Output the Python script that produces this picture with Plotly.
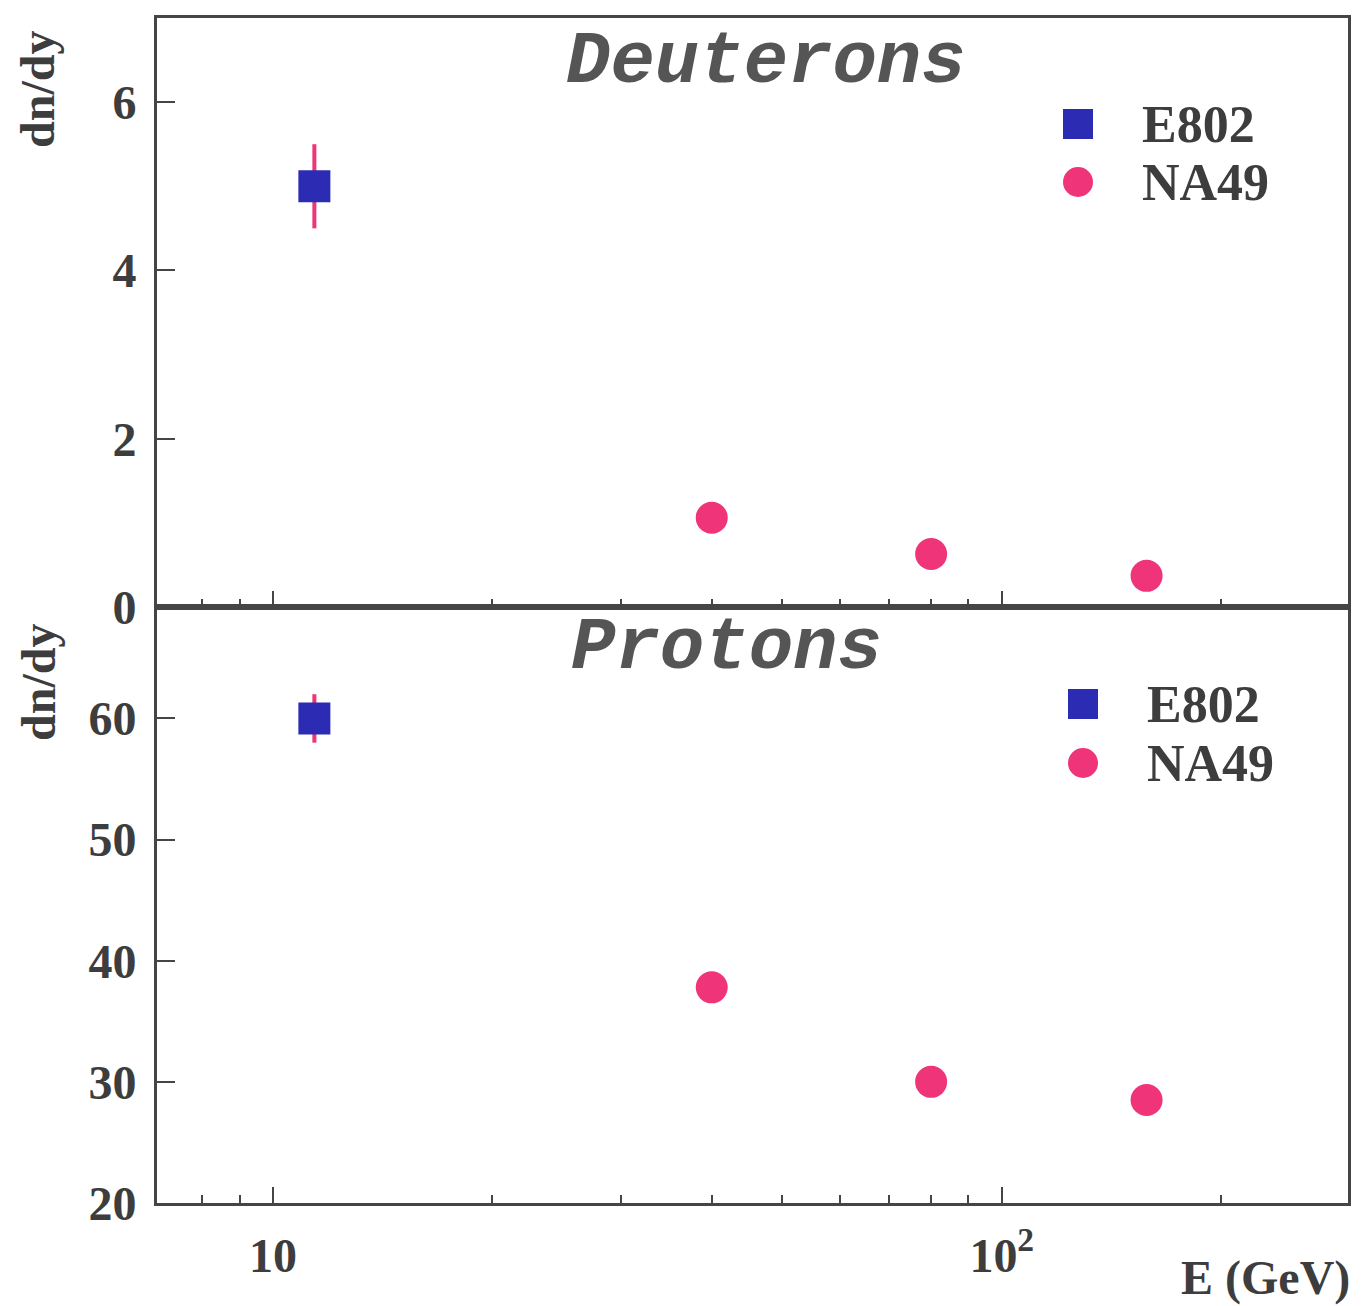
import plotly.graph_objects as go

# ---------------- data ----------------
energy_e802 = [11.4]
energy_na49 = [40, 80, 158]

deut_e802 = [5.0]
deut_e802_err = [0.5]
deut_na49 = [1.06, 0.63, 0.37]

prot_e802 = [60.0]
prot_e802_err = [2.0]
prot_na49 = [37.8, 30.0, 28.5]

x_major_ticks = [10, 100]
x_major_labels = ["10", "10<sup>2</sup>"]
x_minor_ticks = [8, 9, 20, 30, 40, 50, 60, 70, 80, 90, 200]
deut_yticks = [0, 2, 4, 6]
prot_yticks = [20, 30, 40, 50, 60]
series_names = ["E802", "NA49"]

# ---------------- style ----------------
BLUE = "#2b2bb3"
PINK = "#ef3479"
AXC = "#454545"
TXT = "#3d3d3d"
SERIF = "Liberation Serif"
MONO = "Liberation Mono"

OFF = 8  # page body margin
W, H = 1363 - OFF, 1306 - OFF
ML, MR, MT, MB = 157 - OFF, 15, 18 - OFF, 103
PW, PH = W - ML - MR, H - MT - MB


def px(xs):
    return (xs - OFF - ML) / PW


def py(ys):
    return (H - MB - (ys - OFF)) / PH


fig = go.Figure()

# top panel: deuterons
fig.add_trace(go.Scatter(
    x=energy_e802, y=deut_e802, mode="markers", name=series_names[0],
    marker=dict(symbol="square", size=32, color=BLUE),
    error_y=dict(type="data", array=deut_e802_err, color=PINK, thickness=4, width=0),
    xaxis="x2", yaxis="y2"))
fig.add_trace(go.Scatter(
    x=energy_na49, y=deut_na49, mode="markers", name=series_names[1],
    marker=dict(symbol="circle", size=32, color=PINK),
    xaxis="x2", yaxis="y2"))

# bottom panel: protons
fig.add_trace(go.Scatter(
    x=energy_e802, y=prot_e802, mode="markers", name=series_names[0],
    marker=dict(symbol="square", size=32, color=BLUE),
    error_y=dict(type="data", array=prot_e802_err, color=PINK, thickness=4, width=0),
    xaxis="x", yaxis="y"))
fig.add_trace(go.Scatter(
    x=energy_na49, y=prot_na49, mode="markers", name=series_names[1],
    marker=dict(symbol="circle", size=32, color=PINK),
    xaxis="x", yaxis="y"))

xrange_log = [0.841, 2.475]
split = py(607)

common_x = dict(
    type="log", range=xrange_log, showgrid=False, zeroline=False, automargin=False,
    showline=True, linecolor=AXC, linewidth=3, mirror=True,
    ticks="inside", ticklen=16, tickwidth=2, tickcolor=AXC,
    tickvals=x_major_ticks,
    minor=dict(tickvals=x_minor_ticks, ticks="inside", ticklen=8, tickwidth=2, tickcolor=AXC),
)
common_y = dict(
    showgrid=False, zeroline=False, automargin=False,
    showline=True, linecolor=AXC, linewidth=3, mirror=True,
    ticks="inside", ticklen=18, tickwidth=2, tickcolor=AXC,
    tickfont=dict(family=SERIF, size=48, color=TXT, weight="bold"),
    ticklabelstandoff=8,
)

fig.update_layout(
    width=W, height=H,
    paper_bgcolor="white", plot_bgcolor="white",
    margin=dict(l=ML, r=MR, t=MT, b=MB, autoexpand=False),
    showlegend=False,
    xaxis=dict(**common_x, domain=[0, 1], anchor="y",
               ticktext=x_major_labels, showticklabels=True,
               tickfont=dict(family=SERIF, size=48, color=TXT, weight="bold"),
               ticklabelstandoff=8),
    yaxis=dict(**common_y, domain=[0, split], range=[20, 69.2], tickvals=prot_yticks, anchor="x"),
    xaxis2=dict(**common_x, domain=[0, 1], anchor="y2", showticklabels=False),
    yaxis2=dict(**common_y, domain=[split, 1], range=[0, 7.0], tickvals=deut_yticks, anchor="x2"),
)

# ---- legends (drawn per panel) ----
leg_font = dict(family=SERIF, size=52, color=TXT, weight="bold")
for (mx, rows, tx) in [(1078, (124, 182), 1140), (1083, (704, 763), 1145)]:
    s = 15
    fig.add_shape(type="rect", xref="paper", yref="paper",
                  x0=px(mx - s), x1=px(mx + s), y0=py(rows[0] + s), y1=py(rows[0] - s),
                  fillcolor=BLUE, line=dict(width=0))
    fig.add_shape(type="circle", xref="paper", yref="paper",
                  x0=px(mx - s), x1=px(mx + s), y0=py(rows[1] + s), y1=py(rows[1] - s),
                  fillcolor=PINK, line=dict(width=0))
    for name, ry in zip(series_names, rows):
        fig.add_annotation(text=name, xref="paper", yref="paper", x=px(tx), y=py(ry),
                           showarrow=False, font=leg_font, xanchor="left", yanchor="middle")

ann_font_title = dict(family=MONO, size=74, color="#555555", weight="bold", style="italic")
fig.add_annotation(text="Deuterons", xref="paper", yref="paper", x=px(766), y=py(62),
                   showarrow=False, font=ann_font_title, xanchor="center", yanchor="middle")
fig.add_annotation(text="Protons", xref="paper", yref="paper", x=px(726), y=py(648),
                   showarrow=False, font=ann_font_title, xanchor="center", yanchor="middle")

lab_font = dict(family=SERIF, size=48, color=TXT, weight="bold")
fig.add_annotation(text="dn/dy", xref="paper", yref="paper", x=px(38), y=py(90),
                   showarrow=False, font=lab_font, textangle=-90, xanchor="center", yanchor="middle")
fig.add_annotation(text="dn/dy", xref="paper", yref="paper", x=px(38), y=py(683),
                   showarrow=False, font=lab_font, textangle=-90, xanchor="center", yanchor="middle")
fig.add_annotation(text="E (GeV)", xref="paper", yref="paper", x=px(1352), y=py(1278),
                   showarrow=False, font=dict(family=SERIF, size=48, color=TXT, weight="bold"),
                   xanchor="right", yanchor="middle")

fig.write_html("out.html")
